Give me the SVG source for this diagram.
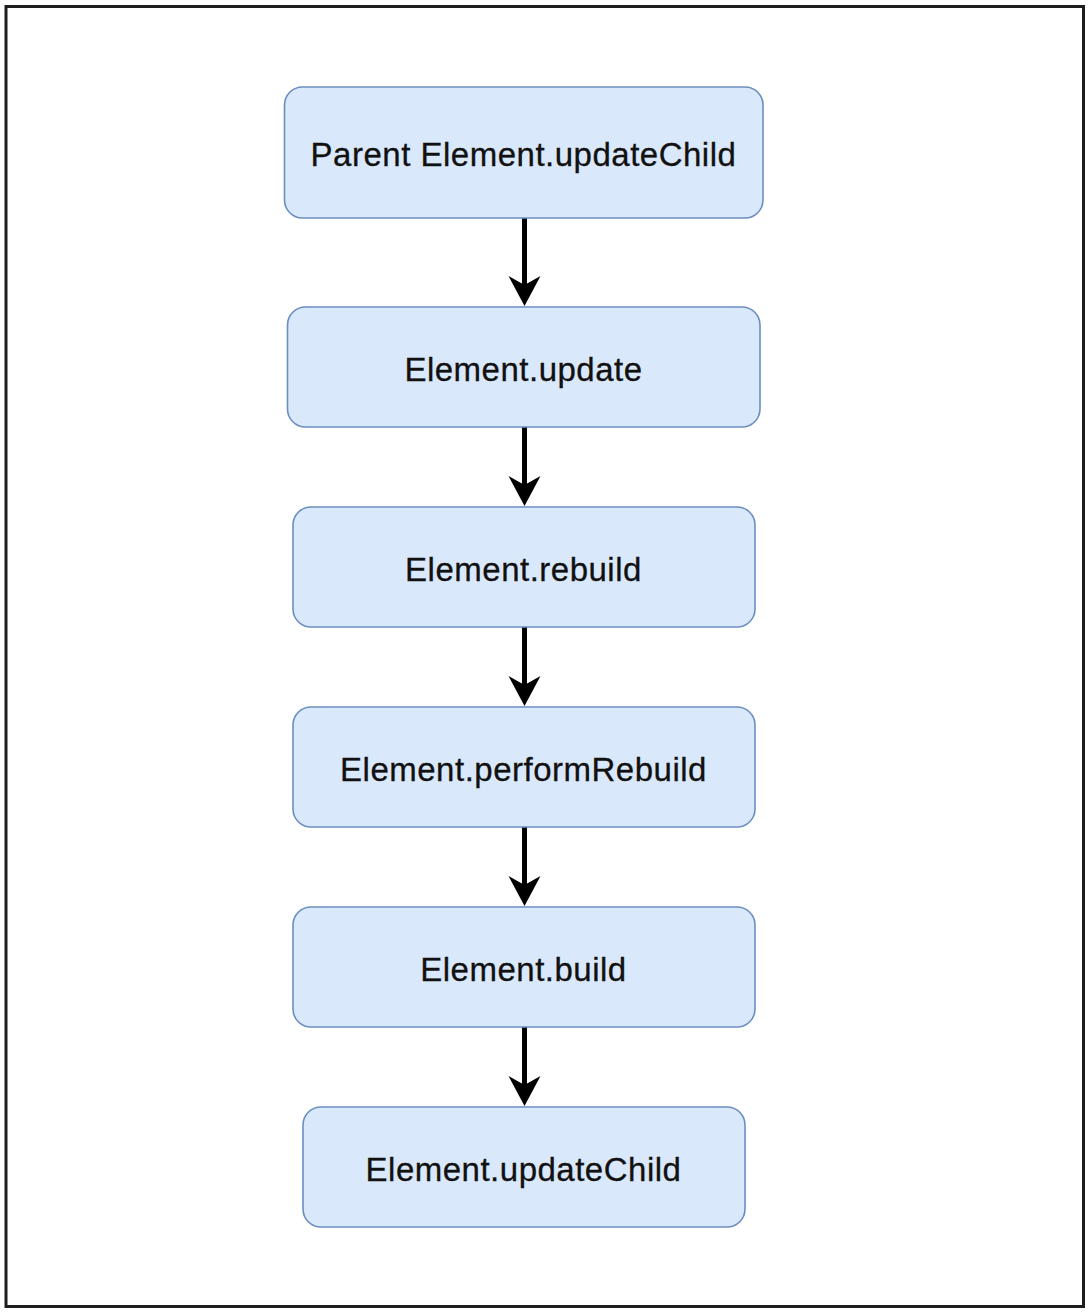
<svg xmlns="http://www.w3.org/2000/svg" width="1088" height="1312" viewBox="0 0 1088 1312">
<style>
.node rect{fill:#dae8fc;stroke:#6c8ebf;stroke-width:1.6}
.node text{font-family:"Liberation Sans",Arial,Helvetica,sans-serif;font-size:33px;letter-spacing:0.5px;fill:#111;stroke:#111;stroke-width:0.3;text-anchor:middle}
.edge line{stroke:#000;stroke-width:5}
.edge polygon{fill:#000}
</style>
<rect x="0" y="0" width="1088" height="1312" fill="#fff"/>
<rect id="frame" x="6" y="6.5" width="1077.5" height="1300" fill="none" stroke="#1e1e1e" stroke-width="3"/>
<g id="connectors" class="edge">
<line x1="524.5" y1="218" x2="524.5" y2="290"/>
<polygon points="508.5,276 524.5,306 540.5,276 524.5,285"/>
<line x1="524.5" y1="427" x2="524.5" y2="490"/>
<polygon points="508.5,476 524.5,506 540.5,476 524.5,485"/>
<line x1="524.5" y1="627" x2="524.5" y2="690"/>
<polygon points="508.5,676 524.5,706 540.5,676 524.5,685"/>
<line x1="524.5" y1="827" x2="524.5" y2="890"/>
<polygon points="508.5,876 524.5,906 540.5,876 524.5,885"/>
<line x1="524.5" y1="1027" x2="524.5" y2="1090"/>
<polygon points="508.5,1076 524.5,1106 540.5,1076 524.5,1085"/>
</g>
<g id="n1" class="node"><rect x="284.5" y="87" width="478.5" height="131" rx="18"/><text x="523.5" y="166">Parent Element.updateChild</text></g>
<g id="n2" class="node"><rect x="287.5" y="307" width="472.5" height="120" rx="18"/><text x="523.5" y="380.5">Element.update</text></g>
<g id="n3" class="node"><rect x="293" y="507" width="462" height="120" rx="18"/><text x="523.5" y="580.5">Element.rebuild</text></g>
<g id="n4" class="node"><rect x="293" y="707" width="462" height="120" rx="18"/><text x="523.5" y="780.5">Element.performRebuild</text></g>
<g id="n5" class="node"><rect x="293" y="907" width="462" height="120" rx="18"/><text x="523.5" y="980.5">Element.build</text></g>
<g id="n6" class="node"><rect x="303" y="1107" width="442" height="120" rx="18"/><text x="523.5" y="1180.5">Element.updateChild</text></g>
</svg>
